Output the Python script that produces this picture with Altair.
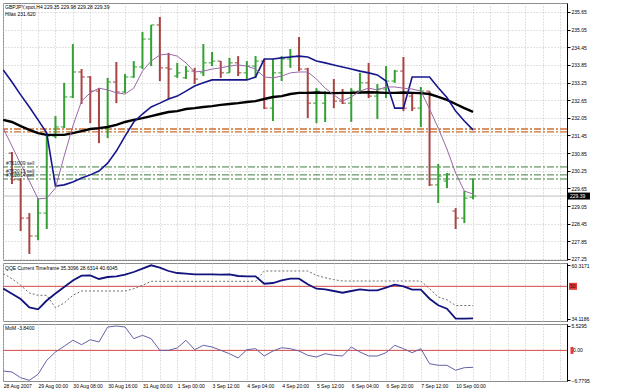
import altair as alt
import pandas as pd

# ---------------- data ----------------
bar_idx = list(range(54))
line_idx = list(range(-1, 54))

bar_open = [230.85, 229.94, 228.64, 228.03, 228.81, 231.43, 231.74, 232.76, 233.61, 233.44,
            232.96, 231.70, 233.27, 232.93, 233.44, 233.78, 234.73, 235.21, 233.75, 233.47,
            233.41, 233.64, 233.58, 233.92, 233.98, 233.58, 233.92, 233.58, 233.81, 233.98,
            232.38, 233.58, 234.05, 234.15, 233.71, 232.55, 232.55, 232.90, 232.62, 232.55,
            232.96, 233.24, 232.79, 233.03, 233.30, 233.64, 232.79, 232.38, 232.96, 229.77,
            229.90, 228.88, 228.64, 229.35]
bar_high = [230.89, 230.00, 228.81, 229.32, 231.53, 232.11, 233.24, 234.56, 233.71, 233.47,
            233.06, 233.41, 233.95, 233.54, 233.98, 234.97, 235.21, 235.48, 234.26, 233.92,
            233.81, 233.75, 234.56, 234.29, 233.98, 234.09, 234.15, 233.98, 234.15, 234.05,
            234.05, 234.15, 234.39, 234.80, 233.75, 233.06, 232.96, 233.37, 233.03, 233.06,
            233.58, 233.92, 233.20, 233.81, 233.68, 234.12, 232.90, 233.10, 232.96, 230.48,
            230.17, 228.98, 229.56, 229.98]
bar_low = [229.80, 228.20, 227.42, 227.89, 228.27, 231.36, 231.70, 232.72, 232.52, 231.87,
           231.19, 231.36, 232.55, 232.90, 233.41, 233.71, 233.81, 233.30, 232.69, 233.41,
           233.37, 233.20, 233.47, 233.81, 233.41, 233.58, 233.47, 233.37, 233.41, 232.35,
           231.94, 233.30, 233.75, 233.64, 232.04, 231.87, 231.91, 232.38, 232.52, 231.91,
           232.86, 232.72, 232.01, 232.72, 233.24, 232.28, 232.28, 231.74, 229.73, 229.15,
           229.66, 228.27, 228.47, 229.28]
bar_close = [229.94, 228.64, 228.03, 228.81, 231.43, 231.74, 232.76, 233.61, 233.44, 232.96,
             231.70, 233.27, 232.93, 233.44, 233.78, 234.73, 235.21, 233.75, 233.71, 233.58,
             233.64, 233.37, 233.92, 233.98, 233.58, 233.92, 233.58, 233.81, 233.98, 232.38,
             233.58, 234.05, 234.15, 233.71, 232.55, 232.96, 232.90, 232.62, 232.55, 232.96,
             233.24, 232.79, 233.03, 233.30, 233.64, 232.38, 232.38, 232.96, 229.77, 230.07,
             230.14, 228.64, 229.32, 229.39]

ma_slow = [231.98, 231.91, 231.77, 231.64, 231.53, 231.47, 231.47, 231.47, 231.53, 231.60,
           231.67, 231.70, 231.74, 231.81, 231.91, 231.98, 232.04, 232.11, 232.18, 232.25,
           232.28, 232.35, 232.38, 232.42, 232.45, 232.49, 232.52, 232.55, 232.59, 232.62,
           232.69, 232.76, 232.79, 232.86, 232.90, 232.90, 232.91, 232.90, 232.89, 232.90,
           232.90, 232.91, 232.92, 232.91, 232.90, 232.90, 232.91, 232.90, 232.89, 232.86,
           232.76, 232.66, 232.52, 232.38, 232.25]
ma_mid = [233.68, 233.27, 232.83, 232.42, 231.98, 231.53, 229.73, 229.77, 229.87, 230.00,
          230.11, 230.24, 230.51, 230.92, 231.43, 231.91, 232.18, 232.42, 232.55, 232.69,
          232.79, 232.96, 233.13, 233.24, 233.34, 233.34, 233.34, 233.34, 233.34, 233.44,
          234.05, 234.05, 234.09, 234.12, 234.15, 234.12, 233.98, 233.92, 233.85, 233.78,
          233.71, 233.64, 233.58, 233.51, 233.30, 232.38, 232.38, 233.44, 233.44, 233.44,
          233.07, 232.74, 232.28, 231.94, 231.64]
ma_fast = [231.70, 231.09, 230.48, 229.90, 229.29, 229.32, 229.66, 230.75, 231.77, 232.62,
           232.90, 233.06, 233.00, 232.90, 232.86, 233.06, 233.64, 233.98, 234.19, 234.22,
           234.15, 233.92, 233.61, 233.64, 233.71, 233.75, 233.81, 233.85, 233.81, 233.71,
           233.44, 233.41, 233.47, 233.58, 233.61, 233.61, 233.37, 233.06, 232.83, 232.62,
           232.76, 232.96, 233.06, 233.00, 233.10, 233.10, 233.06, 233.03, 232.96, 232.35,
           231.70, 230.99, 230.17, 229.56, 229.46]

qqe_main = [48.90, 46.39, 43.78, 39.62, 38.73, 43.05, 46.48, 49.67, 52.86, 55.22,
            55.41, 53.60, 54.58, 54.92, 55.71, 57.03, 58.65, 60.32, 59.14, 57.52,
            56.54, 56.20, 55.90, 55.90, 55.90, 55.71, 55.90, 55.07, 54.92, 54.92,
            51.29, 51.63, 52.96, 53.74, 53.74, 50.99, 48.84, 48.54, 47.71, 46.87,
            47.71, 48.54, 48.05, 48.05, 49.33, 50.80, 50.02, 48.35, 48.35, 43.93,
            40.69, 39.03, 34.12, 34.12, 34.30]
qqe_trail = [56.20, 53.74, 50.51, 46.73, 45.60, 45.60, 39.52, 41.82, 45.60, 47.71,
             47.71, 47.71, 47.71, 47.71, 47.71, 48.84, 50.51, 52.47, 52.47, 52.47,
             52.47, 52.47, 52.47, 52.47, 52.47, 52.47, 52.47, 52.47, 52.47, 52.47,
             57.52, 57.52, 57.52, 57.52, 57.52, 57.52, 55.41, 54.23, 53.25, 52.61,
             52.61, 52.61, 52.61, 52.61, 52.61, 52.61, 52.61, 52.61, 52.61, 48.84,
             44.77, 43.44, 40.60, 40.60, 40.60]
mom = [-4.67, -4.90, -6.19, -6.78, -5.42, -2.25, -0.36, 0.93, 2.29, 1.29,
       2.42, 1.90, 5.30, 5.53, 5.30, 2.65, 3.42, 2.65, 0.02, 0.02,
       0.54, 2.29, 0.16, 1.15, 0.77, 0.02, -0.75, -1.72, 0.16, 0.38,
       -1.27, -0.14, 0.61, 0.38, -0.14, -1.11, -1.50, -0.75, -1.11, -1.27,
       0.77, -0.36, -1.27, -1.27, -0.52, 1.15, 0.38, -0.52, 0.38, -3.02,
       -3.38, -3.38, -4.51, -3.92, -3.84]

price_ticks = [227.25, 227.85, 228.45, 229.05, 229.65, 230.25, 230.85, 231.45,
               232.05, 232.65, 233.25, 233.85, 234.45, 235.05, 235.65]
time_label_pos = [-1, 3, 7, 11, 15, 19, 23, 27, 31, 35, 39, 43, 47, 51]
time_labels = ["28 Aug 2007", "29 Aug 00:00", "30 Aug 08:00", "30 Aug 16:00",
               "31 Aug 00:00", "1 Sep 00:00", "3 Sep 12:00", "4 Sep 04:00",
               "4 Sep 20:00", "5 Sep 12:00", "6 Sep 04:00", "6 Sep 20:00",
               "7 Sep 12:00", "10 Sep 00:00"]

levels_orange = [231.67, 231.57]
levels_green = [230.38, 230.11, 229.97]
order_labels = ["#761009 sell", "#762013 sell", "#762014 sell"]
bid_price = 229.39
header_lines = ["GBPJPY,spot,H4  229.35 229.98 229.28 229.39", "Hilas 231.620"]
qqe_title = "QQE Current Timeframe 35.3096 28.6314 40.6045"
qqe_level = 50
qqe_axis_vals = [34.1186, 60.3171]
mom_title = "MoM -3.8400"
mom_level = 0
mom_axis_vals = [-6.7795, 5.5295]

X_MIN, X_MAX = -1.03, 63.8
P_MIN, P_MAX = 227.215, 235.956
Q_MIN, Q_MAX = 32.99, 61.45
M_MIN, M_MAX = -6.94, 5.98

FONT = "Liberation Sans"
FS = 5
GRID = "#c4c4c4"
W = 564

# ---------------- frames ----------------
bars = pd.DataFrame({"i": bar_idx, "open": bar_open, "high": bar_high,
                     "low": bar_low, "close": bar_close})
bars["dir"] = ["up" if c >= o else "down" for o, c in zip(bar_open, bar_close)]
lines = pd.DataFrame({"i": line_idx, "slow": ma_slow, "mid": ma_mid, "fast": ma_fast,
                      "qqe": qqe_main, "trail": qqe_trail, "mom": mom})

grid_idx = list(range(-1, 64, 2))
xs = alt.Scale(domain=[X_MIN, X_MAX], nice=False, zero=False)
x_axis_plain = alt.Axis(values=grid_idx, grid=True, gridColor=GRID, gridDash=[1, 2],
                        labels=False, ticks=False, domain=False, title=None,
                        minExtent=0, maxExtent=0, offset=0)
label_expr = " : ".join(f"datum.value == {p} ? '{t}'" for p, t in zip(time_label_pos, time_labels)) + " : ''"
x_axis_bottom = alt.Axis(values=grid_idx, grid=True, gridColor=GRID, gridDash=[1, 2],
                         labels=True, labelExpr=label_expr, labelAlign="left",
                         labelPadding=2, labelOverlap=False, labelFlush=False,
                         labelBound=False, ticks=False, domain=False, title=None,
                         labelFont=FONT, labelFontSize=FS, labelColor="#000",
                         minExtent=0, offset=0)

ys_p = alt.Scale(domain=[P_MIN, P_MAX], nice=False, zero=False)
ys_q = alt.Scale(domain=[Q_MIN, Q_MAX], nice=False, zero=False)
ys_m = alt.Scale(domain=[M_MIN, M_MAX], nice=False, zero=False)


def yaxis(vals, fmt, grid):
    return alt.Axis(orient="right", values=vals, format=fmt, grid=grid, gridColor=GRID,
                    gridDash=[1, 2], domain=True, domainColor="#000", tickSize=3,
                    tickColor="#000", labelPadding=1, labelFont=FONT, labelFontSize=FS,
                    labelColor="#000", labelOverlap=False, labelFlush=False, title=None)


ya_p = yaxis(price_ticks, ".2f", True)
ya_q = yaxis(qqe_axis_vals, ".4f", False)
ya_m = yaxis(mom_axis_vals, ".4f", False)


def X(f, ax):
    return alt.X(f, type="quantitative", scale=xs, axis=ax)


def Y(f, sc, ax):
    return alt.Y(f, type="quantitative", scale=sc, axis=ax)


# ---------------- main panel ----------------
xa = x_axis_plain
col_bar = alt.Color("dir:N", scale=alt.Scale(domain=["up", "down"], range=["#34a034", "#a84444"]), legend=None)
col_tick = alt.Color("dir:N", scale=alt.Scale(domain=["up", "down"], range=["#1d5a1d", "#6a2626"]), legend=None)

lv_o = alt.Chart(pd.DataFrame({"p": levels_orange})).mark_rule(
    color="#cc7033", strokeWidth=1.3, strokeDash=[7, 2, 2, 2]).encode(y=Y("p", ys_p, ya_p))
lv_g = alt.Chart(pd.DataFrame({"p": levels_green})).mark_rule(
    color="#3f7f3f", strokeWidth=1, strokeDash=[7, 2, 2, 2]).encode(y=Y("p", ys_p, ya_p))
lv_b = alt.Chart(pd.DataFrame({"p": [bid_price]})).mark_rule(
    color="#bdbdbd", strokeWidth=1).encode(y=Y("p", ys_p, ya_p))

hl = alt.Chart(bars).mark_rule(strokeWidth=2, clip=True).encode(
    x=X("i", xa), y=Y("low", ys_p, ya_p), y2="high", color=col_bar)
op = alt.Chart(bars).transform_calculate(xl="datum.i - 0.38").mark_rule(strokeWidth=1, clip=True).encode(
    x=X("xl", xa), x2="i", y=Y("open", ys_p, ya_p), color=col_tick)
cl = alt.Chart(bars).transform_calculate(xr="datum.i + 0.38").mark_rule(strokeWidth=1, clip=True).encode(
    x=X("i", xa), x2="xr", y=Y("close", ys_p, ya_p), color=col_tick)

l_slow = alt.Chart(lines).mark_line(color="#000000", strokeWidth=2.4, clip=True).encode(
    x=X("i", xa), y=Y("slow", ys_p, ya_p))
l_mid = alt.Chart(lines).mark_line(color="#17178c", strokeWidth=1.6, clip=True).encode(
    x=X("i", xa), y=Y("mid", ys_p, ya_p))
l_fast = alt.Chart(lines).mark_line(color="#9a68a8", strokeWidth=1, clip=True).encode(
    x=X("i", xa), y=Y("fast", ys_p, ya_p))

hdr = pd.DataFrame({"x": [X_MIN, X_MIN], "y": [P_MAX, P_MAX], "t": header_lines, "k": [0, 1]})
hdr_txt = alt.Chart(hdr).transform_filter("datum.k == 0").mark_text(
    align="left", baseline="top", dx=2, dy=2, font=FONT, fontSize=FS, color="#000").encode(
    x=X("x", xa), y=Y("y", ys_p, ya_p), text="t")
hdr_txt2 = alt.Chart(hdr).transform_filter("datum.k == 1").mark_text(
    align="left", baseline="top", dx=2, dy=9, font=FONT, fontSize=FS, color="#000").encode(
    x=X("x", xa), y=Y("y", ys_p, ya_p), text="t")
ord_txt = alt.Chart(pd.DataFrame({"x": [X_MIN] * 3, "p": levels_green, "t": order_labels})).mark_text(
    align="left", baseline="bottom", dx=3, dy=-0.5, font=FONT, fontSize=FS, color="#222").encode(
    x=X("x", xa), y=Y("p", ys_p, ya_p), text="t")

bid_df = pd.DataFrame({"x": [X_MAX], "p": [bid_price], "t": [f"{bid_price:.2f}"]})
bid_box = alt.Chart(bid_df).mark_rect(width=22, height=7, xOffset=12, color="#000", clip=False).encode(
    x=X("x", xa), y=Y("p", ys_p, ya_p))
bid_txt = alt.Chart(bid_df).mark_text(align="left", baseline="middle", dx=3, font=FONT, fontSize=FS,
                                      color="#fff", clip=False).encode(
    x=X("x", xa), y=Y("p", ys_p, ya_p), text="t")

main = alt.layer(lv_o, lv_g, lv_b, hl, op, cl, l_slow, l_mid, l_fast,
                 hdr_txt, hdr_txt2, ord_txt, bid_box, bid_txt).properties(width=W, height=257)

# ---------------- QQE panel ----------------
q_level = alt.Chart(pd.DataFrame({"v": [qqe_level]})).mark_rule(color="#d84848", strokeWidth=1).encode(
    y=Y("v", ys_q, ya_q))
q_trail = alt.Chart(lines).mark_line(color="#6e6e6e", strokeWidth=1, strokeDash=[2, 2], clip=True).encode(
    x=X("i", xa), y=Y("trail", ys_q, ya_q))
q_main = alt.Chart(lines).mark_line(color="#13137e", strokeWidth=1.8, clip=True).encode(
    x=X("i", xa), y=Y("qqe", ys_q, ya_q))
q_title = alt.Chart(pd.DataFrame({"x": [X_MIN], "y": [Q_MAX], "t": [qqe_title]})).mark_text(
    align="left", baseline="top", dx=2, dy=3, font=FONT, fontSize=FS, color="#000").encode(
    x=X("x", xa), y=Y("y", ys_q, ya_q), text="t")
q_lab_df = pd.DataFrame({"x": [X_MAX], "v": [qqe_level], "t": [str(qqe_level)]})
q_box = alt.Chart(q_lab_df).mark_rect(width=8, height=7, xOffset=6, color="#e23c3c", clip=False).encode(
    x=X("x", xa), y=Y("v", ys_q, ya_q))
q_lab = alt.Chart(q_lab_df).mark_text(align="left", baseline="middle", dx=3, font=FONT, fontSize=FS,
                                      color="#3a0000", clip=False).encode(
    x=X("x", xa), y=Y("v", ys_q, ya_q), text="t")
qqe = alt.layer(q_level, q_trail, q_main, q_title, q_box, q_lab).properties(width=W, height=58)

# ---------------- MoM panel ----------------
xb = x_axis_bottom
m_level = alt.Chart(pd.DataFrame({"v": [mom_level]})).mark_rule(color="#d84848", strokeWidth=1).encode(
    y=Y("v", ys_m, ya_m))
m_line = alt.Chart(lines).mark_line(color="#6262a6", strokeWidth=1, clip=True).encode(
    x=X("i", xb), y=Y("mom", ys_m, ya_m))
m_title = alt.Chart(pd.DataFrame({"x": [X_MIN], "y": [M_MAX], "t": [mom_title]})).mark_text(
    align="left", baseline="top", dx=2, dy=2, font=FONT, fontSize=FS, color="#000").encode(
    x=X("x", xb), y=Y("y", ys_m, ya_m), text="t")
m_lab_df = pd.DataFrame({"x": [X_MAX], "v": [mom_level], "t": ["0.00"]})
m_box = alt.Chart(m_lab_df).mark_rect(width=3, height=7, xOffset=5, color="#e23c3c", clip=False).encode(
    x=X("x", xb), y=Y("v", ys_m, ya_m))
m_lab = alt.Chart(m_lab_df).mark_text(align="left", baseline="middle", dx=6, font=FONT, fontSize=FS,
                                      color="#000", clip=False).encode(
    x=X("x", xb), y=Y("v", ys_m, ya_m), text="t")
momc = alt.layer(m_level, m_line, m_title, m_box, m_lab).properties(width=W, height=57)

chart = alt.vconcat(main, qqe, momc, spacing=3, bounds="flush").properties(
    padding={"left": 1, "top": 2, "right": 0, "bottom": 0}, background="#ffffff"
).configure_view(stroke="#8c8c8c", strokeWidth=1)

chart.save("out.html", embed_options={"renderer": "svg", "actions": False})
